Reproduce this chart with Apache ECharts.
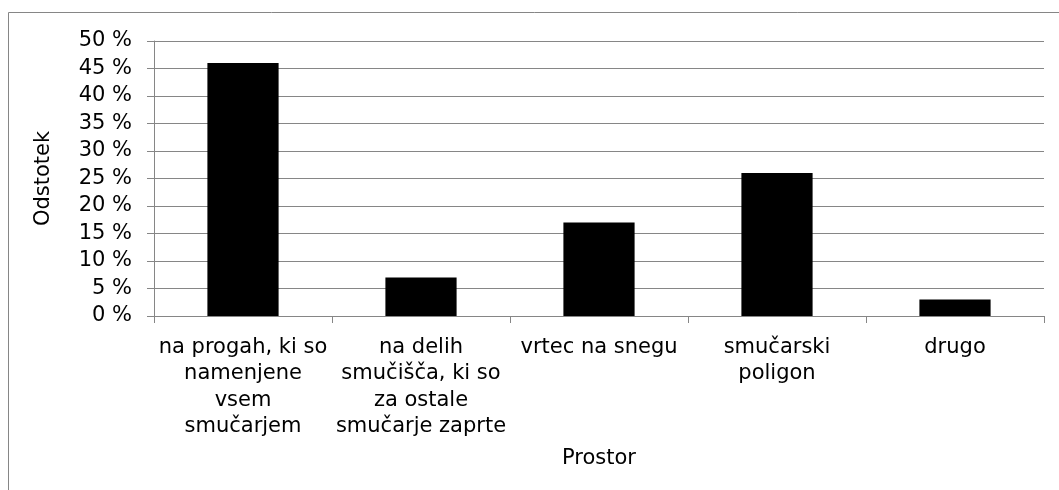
<!DOCTYPE html>
<html>
<head>
<meta charset="utf-8">
<script src="https://cdn.jsdelivr.net/npm/echarts@6/dist/echarts.min.js"></script>
<style>
  html, body { margin: 0; padding: 0; background: #fff; }
  #chart { width: 1059px; height: 490px; }
</style>
</head>
<body>
<div id="chart"></div>
<script>
// kategorije (prelomi vrstic kot na sliki)
const categories = [
  'na progah, ki so\nnamenjene\nvsem\nsmučarjem',
  'na delih\nsmučišča, ki so\nza ostale\nsmučarje zaprte',
  'vrtec na snegu',
  'smučarski\npoligon',
  'drugo'
];
// odstotki
const values = [46, 7, 17, 26, 3];
const yTicks = { min: 0, max: 50, interval: 5 };

const chart = echarts.init(document.getElementById('chart'));

const axisColor = '#868686';
const font = 'DejaVu Sans';

const option = {
  animation: false,
  textStyle: { fontFamily: font },
  graphic: [
    {
      type: 'rect',
      shape: { x: 8.5, y: 12.5, width: 1100, height: 600 },
      style: { fill: 'none', stroke: axisColor, lineWidth: 1 },
      silent: true
    }
  ],
  grid: {
    left: 154,
    right: 15,
    top: 41,
    bottom: 174
  },
  xAxis: {
    type: 'category',
    data: categories,
    name: 'Prostor',
    nameLocation: 'middle',
    nameGap: 132,
    nameTextStyle: { color: '#000', fontSize: 21, fontFamily: font },
    axisLine: { lineStyle: { color: axisColor, width: 1 } },
    axisTick: { show: true, length: 7, lineStyle: { color: axisColor } },
    axisLabel: {
      color: '#000',
      fontSize: 21,
      fontFamily: font,
      lineHeight: 26.5,
      margin: 18,
      interval: 0
    }
  },
  yAxis: {
    type: 'value',
    min: yTicks.min,
    max: yTicks.max,
    interval: yTicks.interval,
    name: 'Odstotek',
    nameLocation: 'middle',
    nameGap: 100,
    nameTextStyle: { color: '#000', fontSize: 21, fontFamily: font },
    axisLine: { show: true, lineStyle: { color: axisColor, width: 1 } },
    axisTick: { show: true, length: 7, lineStyle: { color: axisColor } },
    splitLine: { show: true, lineStyle: { color: axisColor, width: 1 } },
    axisLabel: {
      color: '#000',
      fontSize: 21,
      fontFamily: font,
      margin: 22,
      formatter: '{value} %'
    }
  },
  series: [
    {
      type: 'bar',
      data: values,
      barWidth: '40%',
      itemStyle: { color: '#000' }
    }
  ]
};

chart.setOption(option);
</script>
</body>
</html>
